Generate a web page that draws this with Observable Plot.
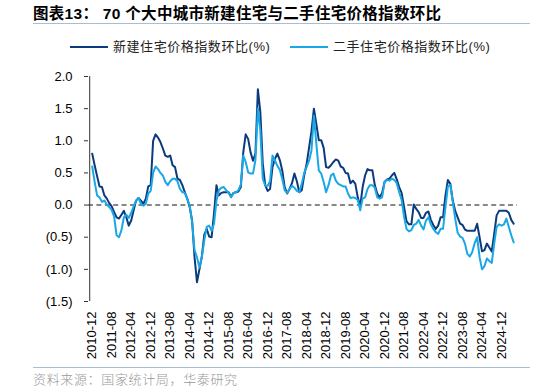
<!DOCTYPE html>
<html><head><meta charset="utf-8">
<script src="https://cdn.jsdelivr.net/npm/d3@7"></script>
<script src="https://cdn.jsdelivr.net/npm/@observablehq/plot@0.6"></script>
<style>
html,body{margin:0;padding:0;background:#fff;}
body{width:534px;height:392px;position:relative;overflow:hidden;font-family:"Liberation Sans","Noto Sans CJK SC",sans-serif;}
#title{position:absolute;left:33px;top:5px;font-size:15.5px;letter-spacing:0.3px;font-weight:bold;color:#000;white-space:nowrap;line-height:18px;}
.hr{position:absolute;left:33px;width:497px;height:1px;background:#a9bdd3;}
.sw{position:absolute;width:38px;height:2px;}
.lg{position:absolute;font-size:13px;letter-spacing:0.55px;color:#222;white-space:nowrap;line-height:16px;font-family:"Liberation Sans","Noto Sans CJK SC",sans-serif;}
#chart{position:absolute;left:0;top:60px;}
#source{position:absolute;left:33px;top:371px;font-size:13px;letter-spacing:0.65px;color:#999;white-space:nowrap;line-height:16px;font-family:"Noto Sans CJK SC",sans-serif;font-weight:300;}
</style>
</head><body>
<div id="title">图表13：&nbsp;70 个大中城市新建住宅与二手住宅价格指数环比</div>
<div class="hr" style="top:23px"></div>
<div id="legend"></div>
<div id="chart"></div>
<div class="hr" style="top:367px"></div>
<div id="source">资料来源：国家统计局，华泰研究</div>
<script>
// Monthly series, starting 2010-12
const startYear = 2010, startMon = 12;
const newHome = [
 0.80,0.62,0.45,0.29,0.28,0.15,0.10,0.03,-0.02,-0.11,
 -0.19,-0.21,-0.15,-0.09,-0.19,-0.32,-0.24,-0.08,0.07,0.11,
 0.07,0.02,0.10,0.29,0.31,1.00,1.10,1.05,0.98,0.88,
 0.77,0.75,0.77,0.62,0.59,0.41,0.39,0.31,0.20,0.10,
 -0.03,-0.24,-0.81,-1.20,-1.00,-0.80,-0.46,-0.37,-0.49,-0.50,
 -0.13,0.31,0.15,0.19,0.20,0.20,0.20,0.13,0.19,0.20,
 0.21,0.28,0.82,1.10,1.03,0.82,0.69,0.80,1.80,1.45,
 0.65,0.31,0.22,0.25,0.59,0.72,0.80,0.70,0.54,0.28,
 0.18,0.25,0.34,0.49,0.37,0.20,0.23,0.46,0.64,0.89,
 1.15,1.50,1.26,1.01,1.01,0.89,0.59,0.58,0.62,0.67,
 0.71,0.69,0.60,0.58,0.50,0.49,0.34,0.38,0.33,0.12,
 -0.02,0.28,0.46,0.56,0.54,0.54,0.31,0.18,0.12,0.19,
 0.36,0.40,0.41,0.46,0.50,0.40,0.28,0.19,-0.03,-0.25,
 -0.30,-0.30,0.01,-0.06,-0.11,-0.20,-0.20,-0.12,-0.10,-0.23,
 -0.31,-0.37,-0.32,-0.19,-0.19,0.15,0.39,0.33,0.07,-0.09,
 -0.19,-0.29,-0.31,-0.38,-0.40,-0.40,-0.40,-0.40,-0.29,-0.50,
 -0.72,-0.70,-0.60,-0.66,-0.72,-0.45,-0.16,-0.09,-0.09,-0.09,
 -0.09,-0.12,-0.23,-0.29
];
const secondHand = [
 0.60,0.36,0.15,0.12,0.05,0.07,0.01,-0.03,-0.08,-0.18,
 -0.47,-0.50,-0.39,-0.19,-0.15,-0.20,-0.12,-0.02,0.07,0.11,
 0.02,-0.01,0.02,0.18,0.22,0.50,0.60,0.56,0.50,0.46,
 0.36,0.31,0.37,0.41,0.41,0.37,0.25,0.20,0.19,0.10,
 -0.01,-0.26,-0.70,-0.81,-0.97,-0.81,-0.55,-0.34,-0.32,-0.40,
 -0.29,0.07,0.23,0.27,0.28,0.23,0.19,0.12,0.19,0.20,
 0.23,0.32,0.77,0.67,0.51,0.49,0.49,0.70,1.50,1.16,
 0.41,0.30,0.30,0.37,0.77,0.69,0.61,0.55,0.41,0.23,
 0.19,0.25,0.30,0.27,0.22,0.20,0.33,0.50,0.59,0.69,
 0.85,1.39,0.95,0.54,0.49,0.36,0.20,0.31,0.46,0.49,
 0.38,0.33,0.31,0.29,0.29,0.18,0.11,0.12,0.11,0.08,
 -0.08,0.10,0.12,0.25,0.31,0.31,0.27,0.12,0.10,0.12,
 0.36,0.39,0.38,0.41,0.39,0.34,0.20,0.08,-0.18,-0.37,
 -0.41,-0.39,-0.31,-0.29,-0.23,-0.32,-0.38,-0.24,-0.19,-0.30,
 -0.37,-0.42,-0.45,-0.37,-0.37,-0.03,0.29,0.31,0.05,-0.21,
 -0.43,-0.49,-0.51,-0.60,-0.76,-0.80,-0.73,-0.59,-0.50,-0.81,
 -1.00,-0.95,-0.83,-0.87,-0.90,-0.60,-0.34,-0.30,-0.32,-0.30,
 -0.21,-0.34,-0.47,-0.58
];
const tickLabels = ["2010-12","2011-08","2012-04","2012-12","2013-08","2014-04","2014-12","2015-08","2016-04","2016-12","2017-08","2018-04","2018-12","2019-08","2020-04","2020-12","2021-08","2022-04","2022-12","2023-08","2024-04","2024-12"];
const yTicks = [2.0,1.5,1.0,0.5,0,-0.5,-1.0,-1.5];
const seriesNames = ["新建住宅价格指数环比(%)","二手住宅价格指数环比(%)"];
const seriesColors = ["#0b3b7c","#19a7e6"];

// month category labels
const months = [];
{ let y = startYear, m = startMon;
  for (let k = 0; k < newHome.length; k++) {
    months.push(`${y}-${String(m).padStart(2,"0")}`);
    m++; if (m > 12) { m = 1; y++; }
  } }

const rowsNew = months.map((mo,i)=>({month:mo, value:newHome[i], series:seriesNames[0]}));
const rowsSecond = months.map((mo,i)=>({month:mo, value:secondHand[i], series:seriesNames[1]}));

const fmt = d => d < 0 ? `(${(-d).toFixed(1)})` : d.toFixed(1);

const chart = Plot.plot({
  width: 534, height: 305,
  marginLeft: 88, marginRight: 17, marginTop: 16, marginBottom: 64,
  x: {type: "point", domain: months, range: [90.5, 514.4], label: null},
  y: {domain: [-1.5, 2.0], label: null},
  color: {domain: seriesNames, range: seriesColors},
  style: {fontFamily: '"Liberation Sans", Arial, sans-serif', fontSize: "13px", color: "#000", background: "#fff", overflow: "visible"},
  marks: [
    Plot.ruleY([0], {stroke: "#606060", strokeWidth: 1.5, strokeDasharray: "5,3.4"}),
    Plot.ruleX([months[0]], {dx: -2.5, stroke: "#333", strokeWidth: 1}),
    Plot.axisY({ticks: yTicks, tickSize: 4, tickPadding: 12, tickFormat: fmt, stroke: "#333", label: null}),
    Plot.axisX({ticks: tickLabels, tickRotate: -90, tickSize: 0, tickPadding: 10, label: null}),
    Plot.line(rowsNew, {x: "month", y: "value", stroke: "series", strokeWidth: 2}),
    Plot.line(rowsSecond, {x: "month", y: "value", stroke: "series", strokeWidth: 2})
  ]
});
document.getElementById("chart").appendChild(chart);

// legend
const lg = document.getElementById("legend");
const legendPos = [{sw:70, tx:113}, {sw:290, tx:333}];
seriesNames.forEach((name, k) => {
  const s = document.createElement("div");
  s.className = "sw"; s.style.left = legendPos[k].sw + "px"; s.style.top = "46px";
  s.style.background = seriesColors[k];
  lg.appendChild(s);
  const t = document.createElement("div");
  t.className = "lg"; t.style.left = legendPos[k].tx + "px"; t.style.top = "39px";
  t.textContent = name;
  lg.appendChild(t);
});
</script>
</body></html>
